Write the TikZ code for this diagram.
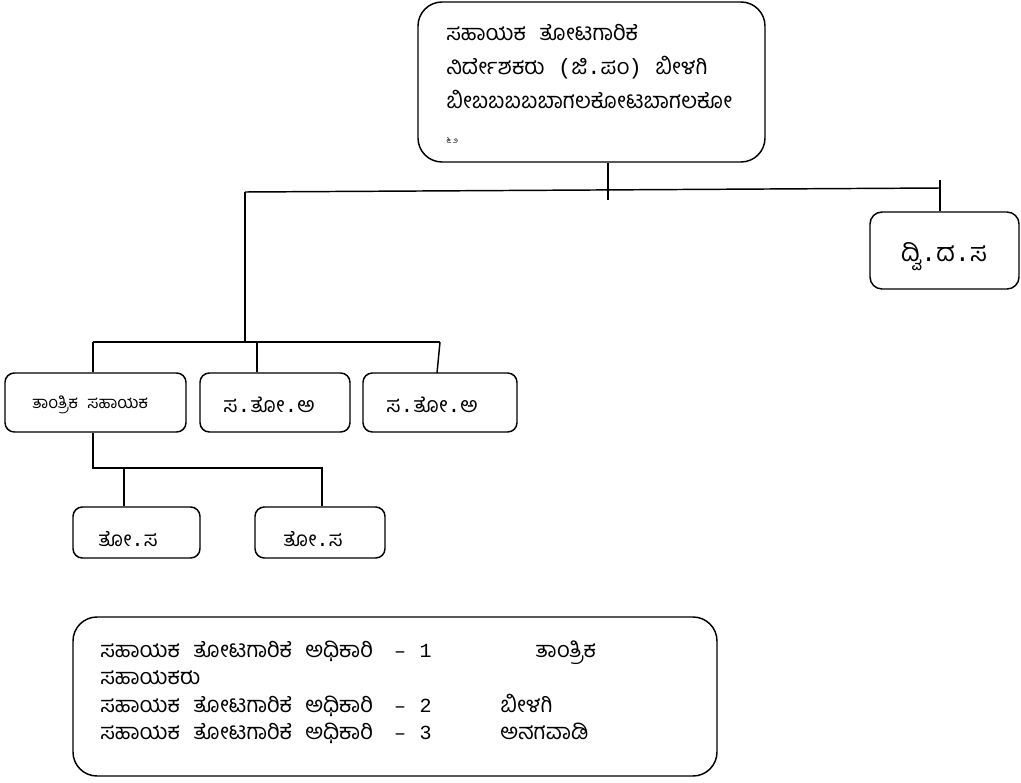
\documentclass[tikz,border=0pt]{standalone}
\usepackage{fontspec}
\setmainfont{Hind Mysuru}[Script=Kannada]
\newfontfamily\mono{Liberation Mono}
\newcommand{\widesp}{\spaceskip=10pt\relax}
\newcommand{\mdig}{\mono\fontsize{15}{18}\selectfont}
\begin{document}
\begin{tikzpicture}[x=0.75pt,y=-0.75pt,
  box/.style={draw,line width=1.1pt,rounded corners=#1,inner sep=0pt},
  box/.default=8pt,
  conn/.style={line width=1.1pt},
  txt/.style={inner sep=0pt,anchor=base west,font=\fontsize{16.5}{20}\selectfont\widesp},
  ctxt/.style={inner sep=0pt,anchor=base,font=\fontsize{#1}{20}\selectfont},
]
\useasboundingbox (0,0) rectangle (1021,782);
% boxes
\node[box=18pt,minimum width=260.25pt,minimum height=120pt] (top) at (591.5,82) {};
\node[box=9pt,minimum width=111.75pt,minimum height=57.75pt] (dvi) at (944.5,250.5) {};
\node[box=7pt,minimum width=135.75pt,minimum height=44.25pt] (b1) at (95.5,402.5) {};
\node[box=7pt,minimum width=112.5pt,minimum height=44.25pt] (b2) at (275,402.5) {};
\node[box=7pt,minimum width=115.5pt,minimum height=44.25pt] (b3) at (440,402.5) {};
\node[box=7pt,minimum width=95.25pt,minimum height=38.25pt] (c1) at (136.5,532.5) {};
\node[box=7pt,minimum width=97.5pt,minimum height=38.25pt] (c2) at (320,532.5) {};
\node[box=18pt,minimum width=483pt,minimum height=119.25pt] (leg) at (395,696.5) {};
% connector coordinates
\coordinate (topdown) at (608,200);
\coordinate (hl) at (245,192);
\coordinate (hr) at (940,188);
\coordinate (tick) at (940,180);
\coordinate (lj) at (245,342);
\coordinate (r1l) at (93,342);
\coordinate (r1r) at (440,342);
\coordinate (r2l) at (93,468);
\coordinate (r2r) at (322,468);
% connectors
\draw[conn] (top.south -| topdown) -- (topdown);
\draw[conn] (hl) -- (hr);
\draw[conn] (tick) -- (dvi.north -| tick);
\draw[conn] (hl) -- (lj);
\draw[conn] (r1l) -- (r1r);
\draw[conn] (r1l) -- (b1.north -| r1l);
\draw[conn] (b2.north -| 257,0) -- (257,342);
\draw[conn] (r1r) -- (437,373);
\draw[conn] (b1.south -| r2l) -- (r2l) -- (r2r) -- (c2.north -| r2r);
\draw[conn] (124,468) -- (c1.north -| 124,0);
% top box text
\node[txt] (t1) at (446,40) {ಸಹಾಯಕ ತೋಟಗಾರಿಕೆ};
\node[txt] (t2) at (446,74) {ನಿರ್ದೇಶಕರು {\mono(}ಜಿ{\mono.}ಪಂ{\mono)} ಬೀಳಗಿ};
\node[txt] (t3) at (446,108) {ಬೀಬಬಬಬಬಾಗಲಕೋಟಬಾಗಲಕೋ};
\node[inner sep=0pt,anchor=base west,font=\fontsize{6}{7}\selectfont] (t4) at (446,143) {೬ ೨};
% other boxes text
\node[ctxt=19] (dt) at (944,261) {ದ್ವಿ{\mono.}ದ{\mono.}ಸ};
\node[ctxt=12.5] (b1t) at (90,408) {ತಾಂತ್ರಿಕ\hspace{7pt}ಸಹಾಯಕ};
\node[ctxt=16] (b2t) at (269,412) {ಸ{\mono.}ತೋ{\mono.}ಅ};
\node[ctxt=16] (b3t) at (432,412) {ಸ{\mono.}ತೋ{\mono.}ಅ};
\node[ctxt=15.5] (c1t) at (128,546) {ತೋ{\mono.}ಸ};
\node[ctxt=15.5] (c2t) at (313,546) {ತೋ{\mono.}ಸ};
% legend text
\node[txt] (l1) at (100,657) {ಸಹಾಯಕ ತೋಟಗಾರಿಕೆ ಅಧಿಕಾರಿ\hspace{16pt}{\mdig – 1}};
\node[txt] (l1r) at (535,657) {ತಾಂತ್ರಿಕ};
\node[txt] (l2) at (100,684) {ಸಹಾಯಕರು};
\node[txt] (l3) at (100,712) {ಸಹಾಯಕ ತೋಟಗಾರಿಕೆ ಅಧಿಕಾರಿ\hspace{16pt}{\mdig – 2}};
\node[txt] (l3r) at (500,712) {ಬೀಳಗಿ};
\node[txt] (l4) at (100,739) {ಸಹಾಯಕ ತೋಟಗಾರಿಕೆ ಅಧಿಕಾರಿ\hspace{16pt}{\mdig – 3}};
\node[txt] (l4r) at (500,739) {ಅನಗವಾಡಿ};
\end{tikzpicture}
\end{document}
